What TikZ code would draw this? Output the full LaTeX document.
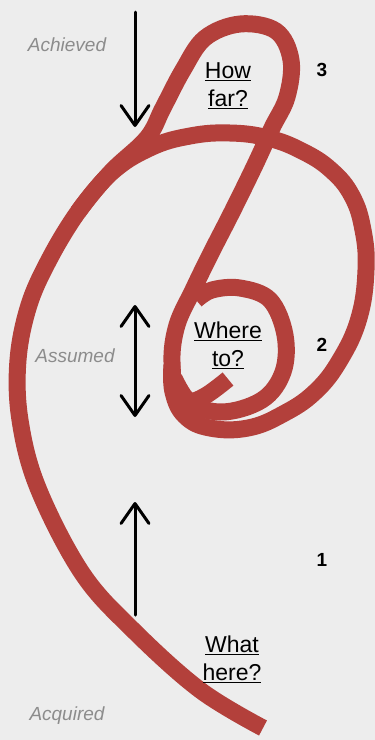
\documentclass[tikz,border=0pt]{standalone}
\usepackage{fontspec}
\setmainfont{Liberation Sans}
\usetikzlibrary{arrows.meta}
\definecolor{paper}{HTML}{EDEDED}
\definecolor{rope}{HTML}{B3403B}
\definecolor{faint}{HTML}{8C8C8C}

\tikzset{
  ropeline/.style={draw=rope,line width=17pt},
  stage/.style={font=\fontsize{19}{22}\selectfont\itshape,text=faint},
  question/.style={align=center,font=\fontsize{23}{28}\selectfont},
  level/.style={font=\fontsize{19}{22}\selectfont\bfseries},
  move/.style={line width=3pt,line cap=round},
  tip/.style={-{Straight Barb[length=20pt,width=28pt,round]}}
}

\begin{document}
\begin{tikzpicture}[x=1pt,y=-1pt]
  \fill[paper] (0,0) rectangle (375,740);
  \useasboundingbox (0,0) rectangle (375,740);

  % the path: up the outer arc, round the top loop, into the inner ring
  \draw[ropeline] plot[smooth,tension=0.6] coordinates {
    (263,728) (200,690) (133,630) (82,573) (38,488) (20,420) (18,360)
    (29,305) (50,258) (78,212) (111,172) (147,138) (163,108) (183,70)
    (205,38) (240,24) (276,31) (291,60) (287,97) (272,128) (255,165)
    (232,212) (210,255) (193,290) (177,325) (172,362) (180,398)
    (220,412) (262,400) (283,372) (285,335) (270,300) (240,288)
    (212,290) (196,300)};
  % the wide arc that spirals in under the ring
  \draw[ropeline] plot[smooth,tension=0.7] coordinates {
    (78,212) (111,173) (150,148) (190,136) (230,133) (268,138)
    (302,151) (331,170) (352,196) (363,230) (366,270) (359,318)
    (340,360) (315,392) (283,414) (248,428) (210,428) (185,416)
    (173,392) (172,365)};
  % the curl inside
  \draw[ropeline] plot[smooth,tension=0.6] coordinates {
    (174,378) (188,400) (205,396) (228,379)};

  % stages
  \node[stage] (achieved) at (67,45) {Achieved};
  \node[stage] (assumed) at (75,356) {Assumed};
  \node[stage] (acquired) at (67,716) {Acquired};

  \coordinate (a1) at (135,12);
  \coordinate (a2) at (135,127);
  \coordinate (b1) at (135,305);
  \coordinate (b2) at (135,417);
  \coordinate (c1) at (135,615);
  \coordinate (c2) at (135,502);
  \draw[move,tip] (a1) -- (a2);
  \draw[move,{Straight Barb[length=20pt,width=28pt,round]}-{Straight Barb[length=20pt,width=28pt,round]}] (b1) -- (b2);
  \draw[move,tip] (c1) -- (c2);

  % questions
  \node[question] (howfar) at (228,86) {\underline{How}\\\underline{far?}};
  \node[question] (whereto) at (228,345) {\underline{Where}\\\underline{to?}};
  \node[question] (whathere) at (232,659) {\underline{What}\\\underline{here?}};

  \node[level] (three) at (322,70) {3};
  \node[level] (two) at (322,345) {2};
  \node[level] (one) at (322,560) {1};
\end{tikzpicture}
\end{document}
